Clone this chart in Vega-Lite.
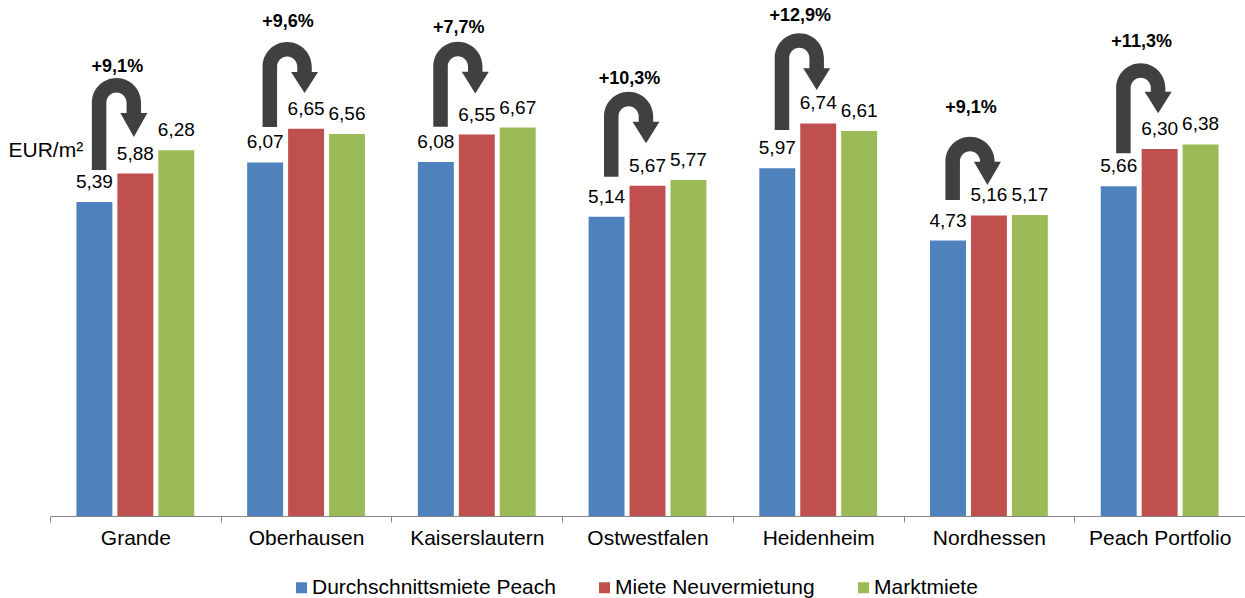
{
  "$schema": "https://vega.github.io/schema/vega-lite/v6.json",
  "width": 1195,
  "height": 516,
  "autosize": {"type": "none"},
  "padding": {"left": 50, "top": 0, "right": 0, "bottom": 82},
  "config": {
    "view": {"stroke": null},
    "font": "Liberation Sans",
    "locale": {"number": {"decimal": ",", "thousands": ".", "grouping": [3], "currency": ["", " €"]}}
  },
  "datasets": {
    "mieten": [
      {"Region": "Grande", "Serie": "Durchschnittsmiete Peach", "Wert": 5.39},
      {"Region": "Grande", "Serie": "Miete Neuvermietung", "Wert": 5.88},
      {"Region": "Grande", "Serie": "Marktmiete", "Wert": 6.28},
      {"Region": "Oberhausen", "Serie": "Durchschnittsmiete Peach", "Wert": 6.07},
      {"Region": "Oberhausen", "Serie": "Miete Neuvermietung", "Wert": 6.65},
      {"Region": "Oberhausen", "Serie": "Marktmiete", "Wert": 6.56},
      {"Region": "Kaiserslautern", "Serie": "Durchschnittsmiete Peach", "Wert": 6.08},
      {"Region": "Kaiserslautern", "Serie": "Miete Neuvermietung", "Wert": 6.55},
      {"Region": "Kaiserslautern", "Serie": "Marktmiete", "Wert": 6.67},
      {"Region": "Ostwestfalen", "Serie": "Durchschnittsmiete Peach", "Wert": 5.14},
      {"Region": "Ostwestfalen", "Serie": "Miete Neuvermietung", "Wert": 5.67},
      {"Region": "Ostwestfalen", "Serie": "Marktmiete", "Wert": 5.77},
      {"Region": "Heidenheim", "Serie": "Durchschnittsmiete Peach", "Wert": 5.97},
      {"Region": "Heidenheim", "Serie": "Miete Neuvermietung", "Wert": 6.74},
      {"Region": "Heidenheim", "Serie": "Marktmiete", "Wert": 6.61},
      {"Region": "Nordhessen", "Serie": "Durchschnittsmiete Peach", "Wert": 4.73},
      {"Region": "Nordhessen", "Serie": "Miete Neuvermietung", "Wert": 5.16},
      {"Region": "Nordhessen", "Serie": "Marktmiete", "Wert": 5.17},
      {"Region": "Peach Portfolio", "Serie": "Durchschnittsmiete Peach", "Wert": 5.66},
      {"Region": "Peach Portfolio", "Serie": "Miete Neuvermietung", "Wert": 6.30},
      {"Region": "Peach Portfolio", "Serie": "Marktmiete", "Wert": 6.38}
    ],
    "anstieg": [
      {"Region": "Grande", "von": 5.39, "nach": 5.88, "Anstieg": "+9,1%"},
      {"Region": "Oberhausen", "von": 6.07, "nach": 6.65, "Anstieg": "+9,6%"},
      {"Region": "Kaiserslautern", "von": 6.08, "nach": 6.55, "Anstieg": "+7,7%"},
      {"Region": "Ostwestfalen", "von": 5.14, "nach": 5.67, "Anstieg": "+10,3%"},
      {"Region": "Heidenheim", "von": 5.97, "nach": 6.74, "Anstieg": "+12,9%"},
      {"Region": "Nordhessen", "von": 4.73, "nach": 5.16, "Anstieg": "+9,1%"},
      {"Region": "Peach Portfolio", "von": 5.66, "nach": 6.30, "Anstieg": "+11,3%"}
    ]
  },
  "layer": [
    {
      "data": {"name": "mieten"},
      "mark": {"type": "bar"},
      "encoding": {
        "x": {
          "field": "Region", "type": "nominal", "sort": null, "title": null,
          "scale": {"paddingInner": 0, "paddingOuter": 0},
          "axis": {
            "title": null, "labelAngle": 0, "labelFontSize": 21, "labelColor": "#000000",
            "domainColor": "#868686", "domainWidth": 1, "tickColor": "#868686", "tickSize": 6,
            "tickBand": "extent", "labelPadding": 5, "labelFont": "Liberation Sans"
          }
        },
        "xOffset": {
          "field": "Serie", "type": "nominal", "sort": null,
          "scale": {"domain": ["Durchschnittsmiete Peach", "Miete Neuvermietung", "Marktmiete"], "paddingInner": 0.122, "paddingOuter": 0.646}
        },
        "y": {
          "field": "Wert", "type": "quantitative", "title": "EUR/m²",
          "scale": {"domain": [0, 8.86], "nice": false, "zero": true},
          "axis": {
            "title": "EUR/m²", "domain": false, "ticks": false, "labels": false, "grid": false,
            "titleAngle": 0, "titleAlign": "left", "titleBaseline": "alphabetic",
            "titleX": -42, "titleY": 156, "titleFontSize": 21, "titleFontWeight": "normal",
            "titleColor": "#000000", "titleFont": "Liberation Sans"
          }
        },
        "color": {
          "field": "Serie", "type": "nominal",
          "scale": {"domain": ["Durchschnittsmiete Peach", "Miete Neuvermietung", "Marktmiete"], "range": ["#4F81BD", "#C0504D", "#9BBB59"]},
          "legend": {
            "title": null, "orient": "none", "legendX": 241, "legendY": 577, "direction": "horizontal",
            "symbolType": "square", "symbolSize": 121, "symbolStrokeWidth": 0, "labelFontSize": 21,
            "labelColor": "#000000", "labelOffset": 0, "columnPadding": 38, "padding": 0, "symbolOffset": 0,
            "labelFont": "Liberation Sans", "labelLimit": 400
          }
        }
      }
    },
    {
      "data": {"name": "mieten"},
      "mark": {"type": "text", "fontSize": 19, "baseline": "alphabetic", "dy": -14, "color": "#000000"},
      "encoding": {
        "x": {"field": "Region", "type": "nominal", "sort": null, "title": null},
        "xOffset": {"field": "Serie", "type": "nominal", "sort": null},
        "y": {"field": "Wert", "type": "quantitative", "title": "EUR/m²"},
        "text": {"field": "Wert", "type": "quantitative", "format": ".2f"}
      }
    },
    {
      "data": {"name": "anstieg"},
      "mark": {"type": "point", "filled": true, "size": 4, "color": "#404040", "opacity": 1, "strokeWidth": 0},
      "encoding": {
        "x": {"field": "Region", "type": "nominal", "sort": null, "title": null},
        "y": {"field": "von", "type": "quantitative", "title": "EUR/m²"},
        "shape": {
          "field": "Region", "type": "nominal", "legend": null,
          "scale": {
            "domain": ["Grande", "Oberhausen", "Kaiserslautern", "Ostwestfalen", "Heidenheim", "Nordhessen", "Peach Portfolio"],
            "range": [
              "M -43.5 -32 L -43.5 -99.4 A 24.6 24.6 0 0 1 5.7 -99.4 L 5.7 -89 L 12 -89 L -1.5 -65 L -15 -89 L -8.8 -89 L -8.8 -99.4 A 10.1 10.1 0 0 0 -29 -99.4 L -29 -32 Z",
              "M -43.5 -35.4 L -43.5 -95.8 A 24.6 24.6 0 0 1 5.7 -95.8 L 5.7 -90.4 L 12 -90.4 L -1.5 -69.4 L -15 -90.4 L -8.8 -90.4 L -8.8 -95.8 A 10.1 10.1 0 0 0 -29 -95.8 L -29 -35.4 Z",
              "M -43.5 -35.1 L -43.5 -95.5 A 24.6 24.6 0 0 1 5.7 -95.5 L 5.7 -90.1 L 12 -90.1 L -1.5 -68.5 L -15 -90.1 L -8.8 -90.1 L -8.8 -95.5 A 10.1 10.1 0 0 0 -29 -95.5 L -29 -35.1 Z",
              "M -43.5 -39.9 L -43.5 -100.3 A 24.6 24.6 0 0 1 5.7 -100.3 L 5.7 -94.9 L 12 -94.9 L -1.5 -73.3 L -15 -94.9 L -8.8 -94.9 L -8.8 -100.3 A 10.1 10.1 0 0 0 -29 -100.3 L -29 -39.9 Z",
              "M -43.5 -38.3 L -43.5 -110.4 A 24.6 24.6 0 0 1 5.7 -110.4 L 5.7 -100 L 12 -100 L -1.5 -78.3 L -15 -100 L -8.8 -100 L -8.8 -110.4 A 10.1 10.1 0 0 0 -29 -110.4 L -29 -38.3 Z",
              "M -43.5 -40.5 L -43.5 -79.2 A 24.6 24.6 0 0 1 5.7 -79.2 L 5.7 -78.8 L 12 -78.8 L -1.5 -55.5 L -15 -78.8 L -8.8 -78.8 L -8.8 -79.2 A 10.1 10.1 0 0 0 -29 -79.2 L -29 -40.5 Z",
              "M -43.5 -33 L -43.5 -98.4 A 24.6 24.6 0 0 1 5.7 -98.4 L 5.7 -94.6 L 12 -94.6 L -1.5 -73 L -15 -94.6 L -8.8 -94.6 L -8.8 -98.4 A 10.1 10.1 0 0 0 -29 -98.4 L -29 -33 Z"
            ]
          }
        }
      }
    },
    {
      "data": {"name": "anstieg"},
      "mark": {"type": "text", "fontSize": 18, "fontWeight": "bold", "baseline": "middle", "dx": -18, "dy": -107, "color": "#000000"},
      "encoding": {
        "x": {"field": "Region", "type": "nominal", "sort": null, "title": null},
        "y": {"field": "nach", "type": "quantitative", "title": "EUR/m²"},
        "text": {"field": "Anstieg", "type": "nominal"}
      }
    }
  ]
}
